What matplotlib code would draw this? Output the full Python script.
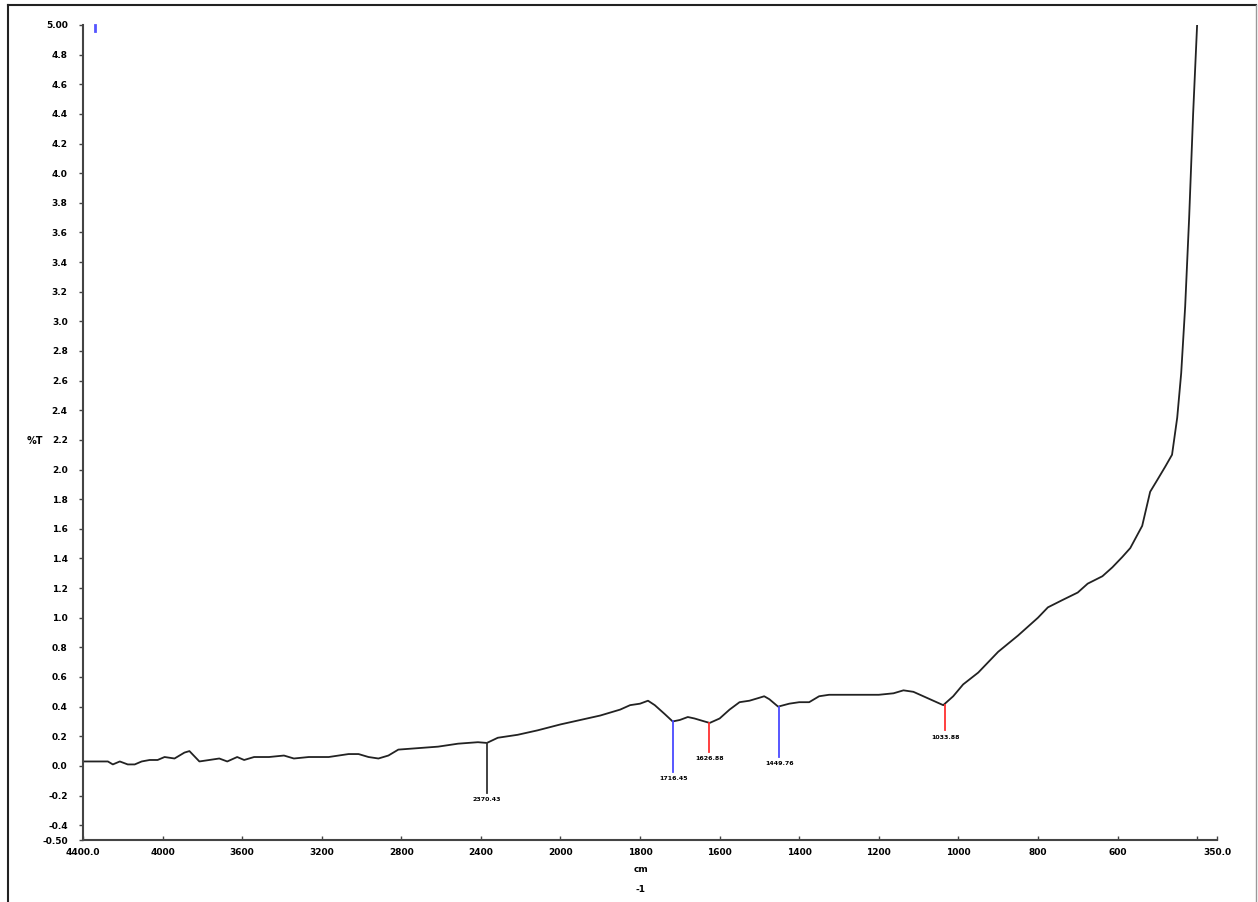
import numpy as np
import matplotlib
matplotlib.use("Agg")
import matplotlib.pyplot as plt
from matplotlib.lines import Line2D

# ---- data ----
wavenumber = [4400, 4275, 4250, 4215, 4175, 4140, 4105, 4065, 4025, 3990, 3940, 3890, 3865,
              3815, 3765, 3715, 3675, 3625, 3590, 3540, 3465, 3390, 3340, 3265, 3165, 3065,
              3015, 2965, 2915, 2865, 2815, 2715, 2615, 2515, 2415, 2370, 2315, 2215, 2115,
              2000, 1950, 1900, 1850, 1825, 1800, 1780, 1763, 1738, 1718, 1700, 1680, 1663,
              1638, 1625, 1600, 1575, 1550, 1525, 1500, 1488, 1475, 1453, 1425, 1400, 1375,
              1350, 1325, 1275, 1200, 1163, 1138, 1113, 1088, 1063, 1038, 1013, 988, 950,
              900, 850, 800, 775, 738, 700, 675, 638, 613, 588, 568, 538, 518, 500, 480,
              463, 450, 440, 430, 420, 410, 400]
transmittance = [0.03, 0.03, 0.01, 0.03, 0.01, 0.01, 0.03, 0.04, 0.04, 0.06, 0.05, 0.09, 0.10,
                 0.03, 0.04, 0.05, 0.03, 0.06, 0.04, 0.06, 0.06, 0.07, 0.05, 0.06, 0.06, 0.08,
                 0.08, 0.06, 0.05, 0.07, 0.11, 0.12, 0.13, 0.15, 0.16, 0.155, 0.19, 0.21, 0.24,
                 0.28, 0.31, 0.34, 0.38, 0.41, 0.42, 0.44, 0.41, 0.35, 0.30, 0.31, 0.33, 0.32,
                 0.30, 0.29, 0.32, 0.38, 0.43, 0.44, 0.46, 0.47, 0.45, 0.40, 0.42, 0.43, 0.43,
                 0.47, 0.48, 0.48, 0.48, 0.49, 0.51, 0.50, 0.47, 0.44, 0.41, 0.47, 0.55, 0.63,
                 0.77, 0.88, 1.00, 1.07, 1.12, 1.17, 1.23, 1.28, 1.34, 1.41, 1.47, 1.62, 1.85,
                 1.93, 2.02, 2.10, 2.35, 2.65, 3.10, 3.70, 4.40, 5.00]

peak_wn = [2370, 1716, 1626, 1450, 1033]
peak_top = [0.155, 0.30, 0.29, 0.40, 0.41]
peak_bottom = [-0.18, -0.04, 0.095, 0.06, 0.24]
peak_labels = ["2370.43", "1716.45", "1626.88", "1449.76", "1033.88"]
peak_colors = ["#333333", "#4a4aff", "#ff3030", "#4a4aff", "#ff3030"]

xticks = [4400, 4000, 3600, 3200, 2800, 2400, 2000, 1800, 1600, 1400, 1200, 1000, 800, 600, 400, 350]
xticklabels = ["4400.0", "4000", "3600", "3200", "2800", "2400", "2000", "1800", "1600", "1400",
               "1200", "1000", "800", "600", "", "350.0"]
yticks = [-0.5, -0.4, -0.2, 0.0, 0.2, 0.4, 0.6, 0.8, 1.0, 1.2, 1.4, 1.6, 1.8, 2.0, 2.2, 2.4,
          2.6, 2.8, 3.0, 3.2, 3.4, 3.6, 3.8, 4.0, 4.2, 4.4, 4.6, 4.8, 5.0]
yticklabels = ["-0.50", "-0.4", "-0.2", "0.0"] + ["%.1f" % v for v in yticks[4:-1]] + ["5.00"]

# ---- piecewise scale (scale change at 2000 cm-1) ----
def fwd(x):
    x = np.asarray(x, dtype=float)
    return np.where(x <= 2000, x, 2000 + (x - 2000) / 2.0)

def inv(y):
    y = np.asarray(y, dtype=float)
    return np.where(y <= 2000, y, 2000 + (y - 2000) * 2.0)

W, H = 1258, 902
fig = plt.figure(figsize=(W / 100, H / 100), dpi=100)
ax = fig.add_axes([83 / W, 1 - 840 / H, (1217 - 83) / W, (840 - 25) / H])

ax.set_xscale('function', functions=(fwd, inv))
ax.set_xlim(4400, 350)
ax.set_ylim(-0.5, 5.0)

ax.plot(wavenumber, transmittance, color="#222222", lw=1.3,
        solid_joinstyle='round', solid_capstyle='round')

for w, t, b, lab, c in zip(peak_wn, peak_top, peak_bottom, peak_labels, peak_colors):
    ax.plot([w, w], [t, b], color=c, lw=1.3)
    ax.text(w, b - 0.03, lab, ha='center', va='top', fontsize=4.5, fontweight='bold')

for s in ['top', 'right']:
    ax.spines[s].set_visible(False)
for s in ['left', 'bottom']:
    ax.spines[s].set_color("#444444")
    ax.spines[s].set_linewidth(1.5)

ax.set_xticks(xticks)
ax.set_xticklabels(xticklabels, fontsize=6.5, fontweight='bold')
ax.set_yticks(yticks)
ax.set_yticklabels(yticklabels, fontsize=6.5, fontweight='bold')
ax.tick_params(axis='x', direction='in', length=3, width=1, color="#444444", pad=6)
ax.tick_params(axis='y', direction='out', length=3, width=1, color="#444444", pad=8)
ax.minorticks_off()

fig.text(35 / W, 1 - 441 / H, "%T", fontsize=7, fontweight='bold', ha='center', va='center')
fig.text(641 / W, 1 - 870 / H, "cm", fontsize=6.5, fontweight='bold', ha='center', va='center')
fig.text(641 / W, 1 - 889 / H, "-1", fontsize=6.5, fontweight='bold', ha='center', va='center')

# small blue marker at top-left
fig.add_artist(Line2D([95 / W, 95 / W], [1 - 25 / H, 1 - 31 / H], color="#5555ff", lw=2))

# outer frame
fig.add_artist(Line2D([8 / W, 8 / W], [0, 1 - 5 / H], color="#222222", lw=1.5))
fig.add_artist(Line2D([8 / W, 1256 / W], [1 - 5 / H, 1 - 5 / H], color="#222222", lw=1.5))
fig.add_artist(Line2D([1256 / W, 1256 / W], [0, 1 - 5 / H], color="#999999", lw=1.0))

fig.savefig("out.png", dpi=100, facecolor="white")
